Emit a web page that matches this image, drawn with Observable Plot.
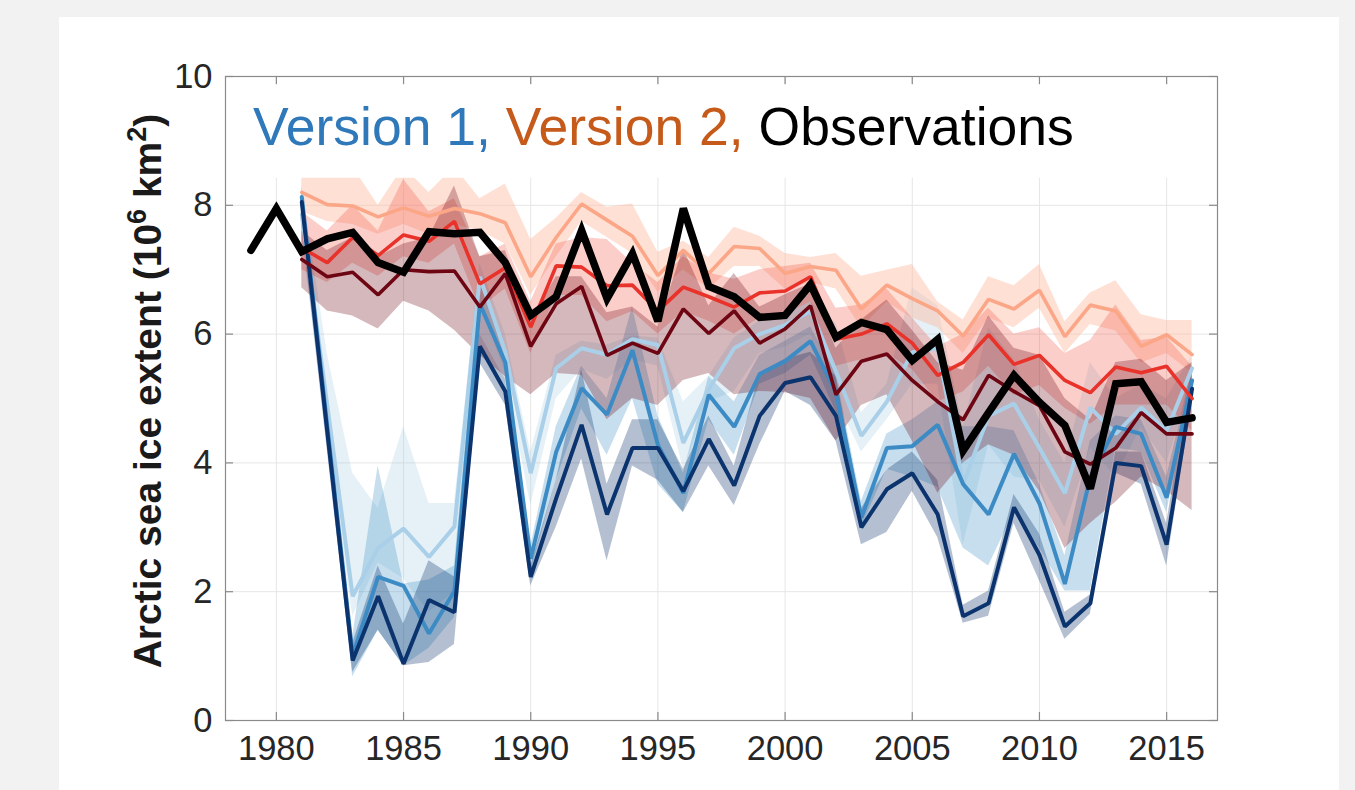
<!DOCTYPE html>
<html><head><meta charset="utf-8">
<script src="https://cdn.jsdelivr.net/npm/d3@7"></script>
<script src="https://cdn.jsdelivr.net/npm/@observablehq/plot@0.6"></script>
<style>
html,body{margin:0;padding:0;background:#f2f2f2;width:1355px;height:790px;overflow:hidden;font-family:"Liberation Sans",Arial,Helvetica,sans-serif}
#panel{position:absolute;left:59px;top:17px;width:1280px;height:773px;background:#fff}
#chart{position:absolute;left:0;top:0}
</style></head><body>
<div id="panel"></div>
<div id="chart"></div>
<script>
// ---------- data ----------
const obsYears = d3.range(1979, 2017);
const obs = [7.30,7.95,7.28,7.48,7.58,7.11,6.96,7.59,7.56,7.58,7.11,6.29,6.58,7.61,6.55,7.25,6.20,7.95,6.74,6.58,6.26,6.29,6.77,5.95,6.18,6.07,5.59,5.92,4.19,4.78,5.36,4.94,4.58,3.60,5.23,5.26,4.63,4.70];

const modelYears = d3.range(1981, 2017);

// Version 1 (blues)
const v1Dark    = [8.05,4.49,0.93,1.93,0.88,1.87,1.68,5.81,5.11,2.23,3.45,4.59,3.20,4.23,4.23,3.56,4.37,3.65,4.73,5.24,5.33,4.73,3.00,3.59,3.84,3.20,1.62,1.82,3.31,2.57,1.46,1.82,4.00,3.95,2.73,5.15];
const v1DarkLo  = [7.70,4.20,0.75,1.40,0.85,0.90,1.18,5.55,4.90,2.09,3.00,4.06,2.48,3.95,3.73,3.23,3.95,3.34,4.28,5.11,4.89,4.34,2.73,2.92,3.56,2.84,1.51,1.62,3.06,2.17,1.26,1.65,3.84,3.67,2.40,4.95];
const v1DarkHi  = [8.20,4.70,1.20,2.40,1.50,2.48,2.23,6.00,5.30,2.40,3.73,5.45,3.67,4.67,4.67,3.90,4.73,3.95,5.39,5.61,5.72,5.34,3.29,3.89,4.17,3.73,1.79,2.01,3.51,2.90,1.68,1.95,4.17,4.17,3.06,5.45];
const v1Mid     = [8.13,4.57,1.01,2.23,2.09,1.35,2.01,6.47,5.56,2.51,4.17,5.16,4.75,5.75,4.28,3.53,5.06,4.56,5.38,5.58,5.89,5.09,3.15,4.23,4.26,4.59,3.67,3.20,4.14,3.37,2.12,3.78,4.56,4.45,3.46,5.28];
const v1MidLo   = [7.80,4.30,0.68,1.40,0.85,1.12,1.60,6.00,5.30,2.30,3.73,4.84,4.12,5.00,3.67,3.23,4.67,4.12,5.22,5.39,5.67,4.80,3.00,3.90,3.78,3.62,2.68,2.40,3.23,2.68,2.01,2.01,4.23,4.17,3.23,5.11];
const v1MidHi   = [8.30,5.00,1.30,3.95,2.12,2.18,2.40,6.80,5.80,2.70,4.56,5.50,5.00,6.42,4.73,3.84,5.34,4.95,5.67,5.89,6.11,5.40,3.40,4.45,4.67,4.95,4.56,4.56,4.50,3.67,2.56,4.34,4.73,4.67,3.78,5.45];
const v1Light   = [7.86,4.90,1.93,2.68,2.98,2.54,3.01,6.89,5.72,3.84,5.47,5.78,5.68,5.92,5.83,4.31,5.14,5.78,6.00,6.14,6.36,5.42,4.42,4.95,5.72,5.78,3.67,4.73,4.92,4.23,3.53,4.86,4.45,4.86,4.50,5.47];
const v1LightLo = [7.50,4.50,1.62,2.45,2.20,1.68,2.00,6.50,5.40,3.34,5.00,5.45,5.30,5.60,5.50,3.90,4.95,5.11,5.70,5.80,6.00,5.00,4.17,4.67,5.22,5.22,2.73,4.28,3.78,3.73,3.00,4.23,3.78,4.56,4.00,5.22];
const v1LightHi = [8.30,5.70,3.84,3.29,4.56,3.37,3.37,7.10,6.00,4.17,5.67,5.89,5.83,5.97,5.94,4.95,5.34,5.94,6.20,6.30,6.50,6.17,4.78,5.22,6.72,6.44,4.56,6.10,5.60,4.67,4.00,5.56,5.00,5.22,5.00,5.67];

// Version 2 (reds)
const v2Dark    = [7.16,6.89,6.96,6.61,7.00,6.97,6.98,6.42,6.94,5.81,6.47,6.74,5.67,5.86,5.70,6.39,6.01,6.36,5.86,6.08,6.44,5.06,5.58,5.69,5.28,4.95,4.67,5.36,5.11,4.89,4.17,3.98,4.23,4.78,4.45,4.45];
const v2DarkLo  = [6.72,6.36,6.28,6.08,6.51,6.36,6.06,5.67,5.34,5.06,5.39,5.36,4.67,5.00,4.89,5.28,5.39,5.06,5.11,5.09,5.00,4.34,4.89,5.06,4.34,3.53,4.00,4.28,4.12,3.56,2.67,3.06,3.39,3.78,3.56,3.26];
const v2DarkHi  = [7.60,7.30,7.50,7.20,7.40,7.50,8.30,7.20,7.30,6.20,6.89,6.89,6.33,6.42,6.11,7.33,6.44,6.94,6.42,6.61,6.78,5.78,6.22,6.53,6.06,5.56,5.44,6.28,5.78,5.67,5.00,4.67,5.56,5.61,5.28,5.56];
const v2Mid     = [7.34,7.11,7.50,7.22,7.54,7.44,7.75,6.78,7.03,6.11,7.06,7.04,6.75,6.76,6.36,6.73,6.58,6.42,6.64,6.67,6.89,5.92,6.00,6.16,5.86,5.36,5.56,5.99,5.53,5.67,5.28,5.09,5.49,5.40,5.50,5.00];
const v2MidLo   = [7.00,6.80,7.10,6.90,7.20,7.10,7.40,6.40,6.70,5.70,6.60,6.60,6.19,6.35,6.00,6.35,6.20,6.00,6.25,6.30,6.50,5.50,5.60,5.70,5.45,4.95,5.10,5.50,5.05,5.20,4.85,4.60,4.90,4.90,4.90,4.50];
const v2MidHi   = [7.90,7.60,8.00,7.60,8.40,7.90,8.10,7.20,7.40,6.50,7.40,7.50,7.47,7.10,6.80,7.20,6.95,6.85,7.00,7.05,7.10,6.40,6.45,6.70,6.25,5.80,6.00,6.40,6.00,6.10,5.70,5.90,6.45,5.90,5.95,5.50];
const v2Light   = [8.20,8.01,7.99,7.82,7.96,7.83,7.95,7.87,7.73,6.89,7.50,8.02,7.77,7.52,6.91,7.30,6.94,7.36,7.33,6.94,7.05,6.99,6.39,6.76,6.55,6.36,5.97,6.54,6.39,6.68,5.96,6.45,6.36,5.81,5.99,5.68];
const v2LightLo = [7.90,7.75,7.70,7.55,7.70,7.55,7.70,7.60,7.40,6.60,7.20,7.75,7.50,7.25,6.65,7.00,6.70,7.05,7.05,6.70,6.80,6.70,6.10,6.50,6.25,6.10,5.70,6.25,6.10,6.40,5.70,6.15,6.05,5.55,5.70,5.40];
const v2LightHi = [8.60,8.60,8.60,8.00,8.60,8.20,8.60,8.10,8.33,7.47,7.80,8.20,7.97,8.02,7.27,7.44,7.19,7.66,7.52,7.25,7.19,7.25,6.90,6.99,7.08,6.50,6.22,6.89,6.75,7.08,6.19,6.64,6.83,6.30,6.21,6.21];

const xTicks = [1980,1985,1990,1995,2000,2005,2010,2015];
const yTicks = [0,2,4,6,8,10];
const xDomain = [1978, 2017];
const yDomain = [0, 10];
const legendBoxBottom = 8.42;   // white legend box covers plot above this value

const legendParts = [
  {text: "Version 1, ", color: "#2f78b9"},
  {text: "Version 2, ", color: "#c55a1a"},
  {text: "Observations", color: "#000000"}
];
const yLabelParts = ["Arctic sea ice extent (10", "6", " km", "2", ")"];

// ---------- build tables ----------
function band(vals, lo, hi){ return modelYears.map((y,i)=>({year:y, v:vals[i], lo:lo[i], hi:hi[i]})); }
const series = [
  {name:"v1Light", data: band(v1Light, v1LightLo, v1LightHi), line:"#aacfe8", fill:"#9ecae1", op:0.27, w:4},
  {name:"v1Mid",   data: band(v1Mid,   v1MidLo,   v1MidHi),   line:"#3d8bc4", fill:"#4292c6", op:0.30, w:4},
  {name:"v1Dark",  data: band(v1Dark,  v1DarkLo,  v1DarkHi),  line:"#0b336e", fill:"#08306b", op:0.30, w:4},
  {name:"v2Light", data: band(v2Light, v2LightLo, v2LightHi), line:"#fca688", fill:"#fcbba1", op:0.45, w:3.6},
  {name:"v2Mid",   data: band(v2Mid,   v2MidLo,   v2MidHi),   line:"#e8322a", fill:"#ef3b2c", op:0.25, w:3.6},
  {name:"v2Dark",  data: band(v2Dark,  v2DarkLo,  v2DarkHi),  line:"#6e0512", fill:"#67000d", op:0.28, w:3.6}
];
const obsData = obsYears.map((y,i)=>({year:y, v:obs[i]}));

const marks = [];
marks.push(Plot.gridX({ticks: xTicks, stroke:"#e6e6e6", strokeOpacity:1}));
marks.push(Plot.gridY({ticks: yTicks, stroke:"#e6e6e6", strokeOpacity:1}));
// all bands
for (const s of series) marks.push(Plot.areaY(s.data, {x:"year", y1:"lo", y2:"hi", fill:s.fill, fillOpacity:s.op}));
// legend box
marks.push(Plot.rect([0], {x1:()=>xDomain[0], x2:()=>xDomain[1], y1:()=>legendBoxBottom, y2:()=>yDomain[1], fill:"white", insetLeft:2, insetRight:2, insetTop:9}));
// all ensemble lines
for (const s of series) marks.push(Plot.lineY(s.data, {x:"year", y:"v", stroke:s.line, strokeWidth:s.w, strokeLinejoin:"miter"}));
// observations
marks.push(Plot.lineY(obsData, {x:"year", y:"v", stroke:"#000", strokeWidth:7.5, strokeLinejoin:"miter", strokeMiterlimit:3}));
// frame & inward ticks
marks.push(Plot.frame({stroke:"#8a8a8a", strokeWidth:1.2}));
marks.push(Plot.tickX(xTicks, {x:d=>d, insetTop:636, stroke:"#8a8a8a", strokeWidth:1.2}));
marks.push(Plot.tickX(xTicks, {x:d=>d, insetBottom:636, stroke:"#8a8a8a", strokeWidth:1.2}));
marks.push(Plot.tickY(yTicks, {y:d=>d, insetRight:984, stroke:"#8a8a8a", strokeWidth:1.2}));
marks.push(Plot.tickY(yTicks, {y:d=>d, insetLeft:984, stroke:"#8a8a8a", strokeWidth:1.2}));
marks.push(Plot.axisX({ticks:xTicks, tickFormat:d=>String(d), tickSize:0, tickPadding:15, fontSize:34.5, label:null}));
marks.push(Plot.axisY({ticks:yTicks, tickFormat:d=>String(d), tickSize:0, tickPadding:13, fontSize:34.5, label:null}));

const chart = Plot.plot({
  width:1355, height:790,
  marginLeft:225, marginRight:138, marginTop:76, marginBottom:70,
  x:{domain:xDomain, label:null},
  y:{domain:yDomain, label:null},
  style:{background:"transparent", color:"#262626", fontFamily:"'Liberation Sans', Arial, Helvetica, sans-serif", overflow:"visible"},
  marks
});
document.getElementById("chart").appendChild(chart);

const svg = d3.select(chart);
// legend text
const lg = svg.append("text").attr("x",253).attr("y",145).attr("font-size",53.5)
  .attr("text-anchor","start").style("white-space","pre")
  .attr("font-family","'Liberation Sans', Arial, Helvetica, sans-serif");
legendParts.forEach(p => lg.append("tspan").attr("fill", p.color).text(p.text));
// y axis label
const yl = svg.append("text").attr("transform","translate(161,391) rotate(-90)")
  .attr("text-anchor","middle").attr("font-weight","bold").attr("font-size",39)
  .attr("fill","#1a1a1a").style("white-space","pre")
  .attr("font-family","'Liberation Sans', Arial, Helvetica, sans-serif");
yl.append("tspan").text(yLabelParts[0]);
yl.append("tspan").attr("font-size",27).attr("dy",-15).text(yLabelParts[1]);
yl.append("tspan").attr("dy",15).text(yLabelParts[2]);
yl.append("tspan").attr("font-size",27).attr("dy",-15).text(yLabelParts[3]);
yl.append("tspan").attr("dy",15).text(yLabelParts[4]);
</script>
</body></html>
